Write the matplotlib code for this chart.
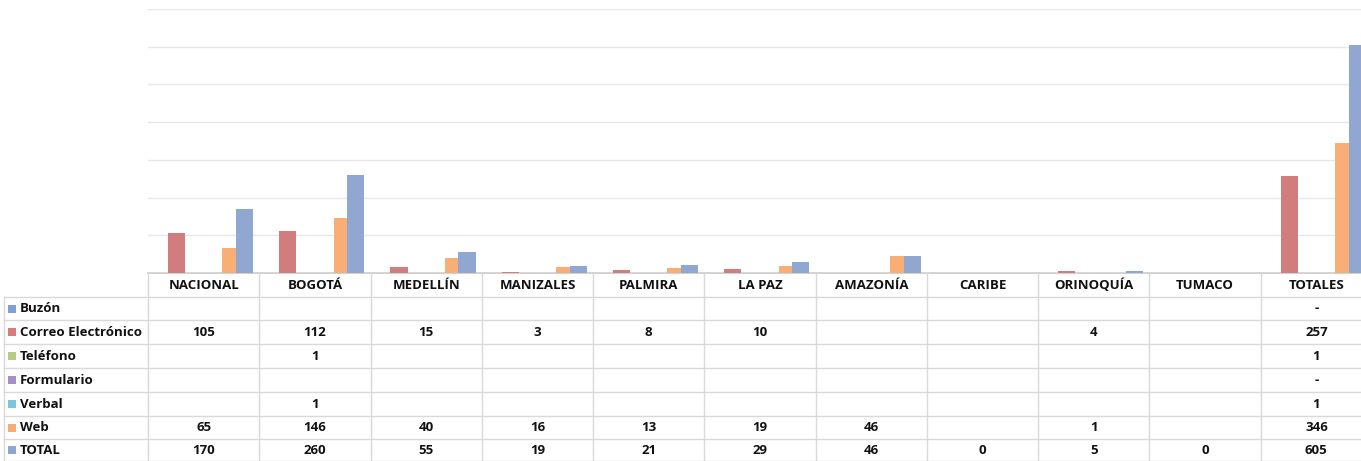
import matplotlib
matplotlib.use("Agg")
import matplotlib.pyplot as plt
from matplotlib.transforms import blended_transform_factory
from matplotlib.patches import Rectangle

categories = ["NACIONAL", "BOGOTÁ", "MEDELLÍN", "MANIZALES", "PALMIRA", "LA PAZ",
              "AMAZONÍA", "CARIBE", "ORINOQUÍA", "TUMACO", "TOTALES"]
series_names = ["Buzón", "Correo Electrónico", "Teléfono", "Formulario", "Verbal", "Web", "TOTAL"]
buzon = [None, None, None, None, None, None, None, None, None, None, 0]
correo = [105, 112, 15, 3, 8, 10, None, None, 4, None, 257]
telefono = [None, 1, None, None, None, None, None, None, None, None, 1]
formulario = [None, None, None, None, None, None, None, None, None, None, 0]
verbal = [None, 1, None, None, None, None, None, None, None, None, 1]
web = [65, 146, 40, 16, 13, 19, 46, None, 1, None, 346]
total = [170, 260, 55, 19, 21, 29, 46, 0, 5, 0, 605]
series_values = [buzon, correo, telefono, formulario, verbal, web, total]
colors = ["#8EA7D2", "#D27D7D", "#B5CC87", "#A995C4", "#7FC4D6", "#F8AE74", "#8FA7D1"]
key_colors = ["#7F9FD6", "#DB7A7A", "#B3CC86", "#A58FC6", "#7DC5D8", "#F7AC78", "#8EA6D0"]

plt.rcParams['font.family'] = ['Open Sans', 'DejaVu Sans']

W, H = 1361, 461
fig = plt.figure(figsize=(W / 100, H / 100), dpi=100)

ov = fig.add_axes([0, 0, 1, 1])
ov.set_xlim(0, W)
ov.set_ylim(H, 0)
ov.axis("off")

left_px, right_px, top_px, base_px = 148, 1372, 9, 273
ax = fig.add_axes([left_px / W, (H - base_px) / H, (right_px - left_px) / W, (base_px - top_px) / H])
ax.set_zorder(2)
ax.patch.set_alpha(0)
n = len(categories)
ax.set_xlim(-0.5, n - 0.5)
ax.set_ylim(0, 700)
for s in ax.spines.values():
    s.set_visible(False)
ax.set_xticks([])
ax.set_yticks(range(0, 701, 100))
ax.tick_params(left=False, labelleft=False)
ax.grid(axis="y", color="#E8E8E8", linewidth=1)
ax.set_axisbelow(True)

step = 0.1224
bw = 0.154
for j, vals in enumerate(series_values):
    xs = [i + (j - 3) * step for i in range(n) if vals[i]]
    ys = [vals[i] for i in range(n) if vals[i]]
    ax.bar(xs, ys, width=bw, color=colors[j], linewidth=0, zorder=3)

tr = blended_transform_factory(ax.transData, ov.transData)
row_lines = [297, 320, 344, 368, 392, 416, 439, 461]
header_top = 273
lc = "#D9D9D9"
ov.plot([148, W], [header_top, header_top], color="#C8C8C8", lw=1.2)
for yl in row_lines:
    ov.plot([4, W], [yl, yl], color=lc, lw=1)
for k in range(n + 1):
    xk = k - 0.5
    ax.plot([xk, xk], [header_top, 461], color=lc, lw=1, transform=tr, clip_on=False, zorder=1)
ov.plot([4, 4], [297, 461], color=lc, lw=1)

fs = 9.5
tc = "#111111"
for i, c in enumerate(categories):
    ax.text(i, 285.5, c, transform=tr, ha="center", va="center", fontsize=fs,
            fontweight="bold", color=tc, clip_on=False)

row_centers = [(row_lines[k] + row_lines[k + 1]) / 2 for k in range(len(row_lines) - 1)]
for j, name in enumerate(series_names):
    yc = row_centers[j]
    ov.add_patch(Rectangle((8, yc - 4), 8, 8, color=key_colors[j], lw=0))
    ov.text(20, yc, name, ha="left", va="center", fontsize=fs, fontweight="bold", color=tc)
    vals = series_values[j]
    for i, v in enumerate(vals):
        if v is None:
            continue
        if v == 0 and categories[i] == "TOTALES":
            txt = "-"
        else:
            txt = str(v)
        ax.text(i, yc, txt, transform=tr, ha="center", va="center", fontsize=fs,
                fontweight="bold", color=tc, clip_on=False)

fig.savefig("out.png", dpi=100)
